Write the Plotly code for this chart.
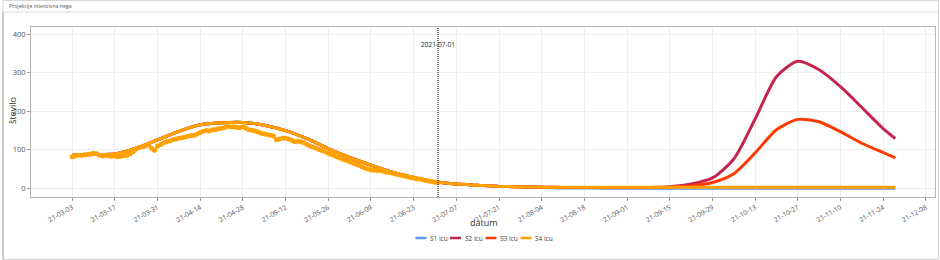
import pandas as pd
import plotly.graph_objects as go

# ---- data ----
weekly_dates = list(pd.date_range("2021-03-03", "2021-11-24", freq="7D")) + [pd.Timestamp("2021-11-28")]

s1_icu = [86, 88, 89, 104, 126, 148, 165, 170, 171, 164, 150, 129, 103, 80, 60, 42, 28, 17, 11, 8,
          5, 4, 2, 1, 1, 0, 0, 0, 0, 0, 0, 0, 0, 0, 0, 0, 0, 0, 0, 0]
s2_icu = [86, 88, 89, 104, 126, 148, 165, 170, 171, 164, 150, 129, 103, 80, 60, 42, 28, 17, 11, 8,
          5, 4, 3, 2, 2, 2, 2, 2, 4, 11, 27, 76, 180, 290, 330, 308, 264, 210, 155, 129]
s3_icu = [86, 88, 89, 104, 126, 148, 165, 170, 171, 164, 150, 129, 103, 80, 60, 42, 28, 17, 11, 8,
          5, 4, 3, 2, 2, 2, 2, 2, 3, 6, 15, 38, 92, 152, 179, 173, 147, 117, 93, 79]
s4_icu = [86, 88, 89, 104, 126, 148, 165, 170, 171, 164, 150, 129, 103, 80, 60, 42, 28, 17, 11, 8,
          5, 4, 3, 3, 3, 3, 3, 3, 3, 3, 3, 3, 3, 3, 3, 3, 3, 3, 3, 3]

observed_icu = [82, 84, 86, 85, 87, 88, 89,
                91, 90, 86, 84, 85, 84, 83,
                84, 82, 83, 85, 86, 90, 95,
                102, 106, 108, 110, 113, 104, 99,
                110, 114, 118, 121, 123, 126, 128,
                130, 131, 133, 135, 137, 138, 141,
                145, 148, 150, 149, 152, 153, 155,
                156, 158, 161, 159, 160, 158, 157,
                160, 156, 152, 151, 149, 146, 143,
                141, 140, 138, 136, 126, 128, 130,
                130, 128, 125, 121, 122, 121, 118,
                114, 110, 107, 104, 101, 98, 95,
                91, 88, 85, 81, 78, 75, 72,
                69, 66, 63, 60, 56, 53, 50,
                48, 47, 46, 46, 44, 42, 41,
                39, 37, 35, 34, 32, 30, 28,
                27, 25, 24, 22, 20, 19, 17,
                16, 15]
observed_dates = list(pd.date_range("2021-03-03", periods=len(observed_icu), freq="D"))

series_names = ["S1 icu", "S2 icu", "S3 icu", "S4 icu"]
series_colors = ["#6495ED", "#C4264E", "#FF3A00", "#FFA200"]
marker_date = "2021-07-01"
box_title = "Projekcije intenzivna nega"
x_title = "datum"
y_title = "število"

# ---- figure ----
fig = go.Figure()
for name, vals, col in zip(series_names, [s1_icu, s2_icu, s3_icu, s4_icu], series_colors):
    fig.add_trace(go.Scatter(x=weekly_dates, y=vals, name=name, mode="lines",
                             line=dict(color=col, width=3, shape="spline", smoothing=0.7),
                             legendgroup=name, showlegend=False))
    if name == "S4 icu":
        fig.add_trace(go.Scatter(x=observed_dates, y=observed_icu, name=name, mode="lines+markers",
                                 line=dict(color=col, width=2),
                                 marker=dict(color=col, size=5),
                                 legendgroup=name, showlegend=False))

L, R, T, B = 31, 5, 27, 63
W, H = 940, 260
pw, ph = W - L - R, H - T - B

def px_x(p):
    return (p - L) / pw

def px_y(p):
    return (H - B - p) / ph

fig.add_shape(type="line", xref="x", yref="paper", x0=marker_date, x1=marker_date, y0=0, y1=1,
              line=dict(color="black", width=1, dash="1px,1px"))
fig.add_annotation(x=marker_date, xref="x", y=px_y(45), yref="paper", text=marker_date,
                   showarrow=False, font=dict(size=6.5, color="#222"), xanchor="center", yanchor="middle")

# axis titles
fig.add_annotation(xref="paper", yref="paper", x=px_x(484), y=px_y(222), text=x_title,
                   showarrow=False, xanchor="center", yanchor="middle", font=dict(size=9, color="#333"))
fig.add_annotation(xref="paper", yref="paper", x=px_x(12), y=px_y(111), text=y_title, textangle=-90,
                   showarrow=False, xanchor="center", yanchor="middle", font=dict(size=9, color="#333"))

# custom compact legend
leg_x = [415.5, 450, 485.5, 520.5]
leg_y = 238
for lx, name, col in zip(leg_x, series_names, series_colors):
    fig.add_shape(type="line", xref="paper", yref="paper", x0=px_x(lx), x1=px_x(lx + 11),
                  y0=px_y(leg_y), y1=px_y(leg_y), line=dict(color=col, width=2.5))
    fig.add_annotation(xref="paper", yref="paper", x=px_x(lx + 12.5), y=px_y(leg_y), text=name,
                       showarrow=False, xanchor="left", yanchor="middle",
                       font=dict(size=6.5, color="#444"))

# dashboard box frame and header
fig.add_shape(type="rect", xref="paper", yref="paper", x0=px_x(3), x1=px_x(938.5),
              y0=px_y(259.5), y1=px_y(0.5), line=dict(color="#d6d6d6", width=1), layer="below")
fig.add_shape(type="line", xref="paper", yref="paper", x0=px_x(3), x1=px_x(938.5),
              y0=px_y(12), y1=px_y(12), line=dict(color="#dcdcdc", width=1))
fig.add_shape(type="line", xref="paper", yref="paper", x0=px_x(3), x1=px_x(3),
              y0=px_y(259.5), y1=px_y(12), line=dict(color="#bdbdbd", width=1.5))
fig.add_annotation(xref="paper", yref="paper", x=px_x(7), y=px_y(6.5), text=box_title,
                   showarrow=False, xanchor="left", yanchor="middle",
                   font=dict(size=5.2, color="#555"))

fig.update_layout(
    width=W, height=H,
    margin=dict(l=L, r=R, t=T, b=B, autoexpand=False),
    paper_bgcolor="white", plot_bgcolor="white",
    font=dict(family="Open Sans, Verdana, sans-serif", color="#444"),
    showlegend=False,
)
fig.update_xaxes(
    type="date", range=["2021-02-17 12:00", "2021-12-11"],
    tick0="2021-03-03", dtick=14 * 24 * 3600 * 1000, tickformat="%y-%m-%d",
    tickangle=-30, tickfont=dict(size=6.8, color="#555"),
    ticks="outside", ticklen=3, tickcolor="#999",
    showgrid=True, gridcolor="#eeeeee", zeroline=False,
    showline=True, linecolor="#b5b5b5", linewidth=1, mirror=True,
    automargin=False,
)
fig.update_yaxes(
    range=[-22.6, 419], tickvals=[0, 100, 200, 300, 400],
    tickfont=dict(size=7.5, color="#555"),
    ticks="outside", ticklen=3, tickcolor="#999",
    showgrid=True, gridcolor="#eeeeee", zeroline=False,
    showline=True, linecolor="#b5b5b5", linewidth=1, mirror=True,
    automargin=False,
)

fig.write_html("out.html")
